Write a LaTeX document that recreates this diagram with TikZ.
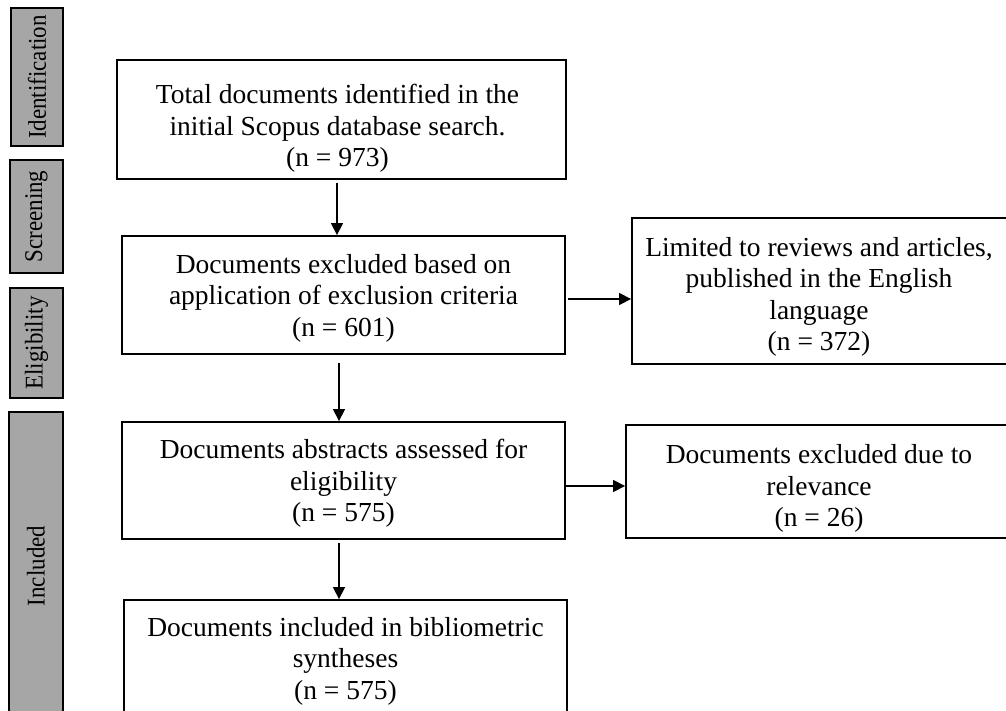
\documentclass[tikz,border=0pt]{standalone}
\usepackage{fontspec}
\setmainfont{Liberation Serif}
\newfontfamily\labfont{Liberation Serif}[FakeStretch=0.9]
\usetikzlibrary{arrows.meta}
\definecolor{labgray}{HTML}{A6A6A6}
\tikzset{
  stagebox/.style={draw=black, line width=1.8pt, fill=labgray, rotate=90, inner sep=0pt,
    font=\labfont\fontsize{25.5}{28}\selectfont},
  flowbox/.style={draw=black, line width=1.8pt, fill=white, inner sep=0pt},
  flowtext/.style={inner sep=0pt, align=center,
    font=\fontsize{27.5}{31.5}\selectfont},
  arr/.style={line width=1.3pt, -{Triangle[width=12pt,length=12pt]}}
}
\begin{document}
\begin{tikzpicture}[x=1pt,y=-1pt]
\useasboundingbox (0,0) rectangle (1006,711);
\clip (0,0) rectangle (1006,711);
% stage labels
\node[stagebox, minimum width=138, minimum height=52] (l1) at (37,77) {Identification};
\node[stagebox, minimum width=113, minimum height=53] (l2) at (36.5,216.5) {Screening};
\node[stagebox, minimum width=110, minimum height=53] (l3) at (36.5,343) {Eligibility};
\node[stagebox, minimum width=308, minimum height=54] (l4) at (36,566) {Included};
% flow boxes
\node[flowbox, minimum width=449, minimum height=119] (b1) at (341.5,119.5) {};
\node[flowbox, minimum width=443, minimum height=118] (b2) at (343.5,295) {};
\node[flowbox, minimum width=378, minimum height=146] (b3) at (821,291) {};
\node[flowbox, minimum width=443, minimum height=117] (b4) at (343.5,480.5) {};
\node[flowbox, minimum width=386, minimum height=113] (b6) at (819,481.5) {};
\node[flowbox, minimum width=443, minimum height=116] (b5) at (345.5,658) {};
% box texts
\node[flowtext] (t1) at ([xshift=-4pt,yshift=-9pt]b1.center)
  {Total documents identified in the\\initial Scopus database search.\\(n = 973)};
\node[flowtext] (t2) at ([yshift=-3pt]b2.center)
  {Documents excluded based on\\application of exclusion criteria\\(n = 601)};
\node[flowtext] (t3) at ([xshift=-2pt,yshift=-6pt]b3.center)
  {Limited to reviews and articles,\\published in the English\\language\\(n = 372)};
\node[flowtext] (t4) at ([yshift=-3pt]b4.center)
  {Documents abstracts assessed for\\eligibility\\(n = 575)};
\node[flowtext] (t6) at ([yshift=-7pt]b6.center)
  {Documents excluded due to\\relevance\\(n = 26)};
\node[flowtext] (t5) at ([yshift=-3pt]b5.center)
  {Documents included in bibliometric\\syntheses\\(n = 575)};
% connectors
\draw[arr] ([xshift=-4.5pt,yshift=-3pt]b1.south) -- ([xshift=-4.5pt]b1.south |- b2.north);
\draw[arr] ([xshift=-4.5pt,yshift=-8pt]b2.south) -- ([xshift=-4.5pt]b2.south |- b4.north);
\draw[arr] ([xshift=-4.5pt,yshift=-3pt]b4.south) -- ([xshift=-4.5pt]b4.south |- b5.north);
\draw[arr] ([xshift=2pt,yshift=-4pt]b2.east) -- ([yshift=-4pt]b2.east -| b3.west);
\draw[arr] ([yshift=-5.5pt]b4.east) -- ([yshift=-5.5pt]b4.east -| b6.west);
\end{tikzpicture}
\end{document}
